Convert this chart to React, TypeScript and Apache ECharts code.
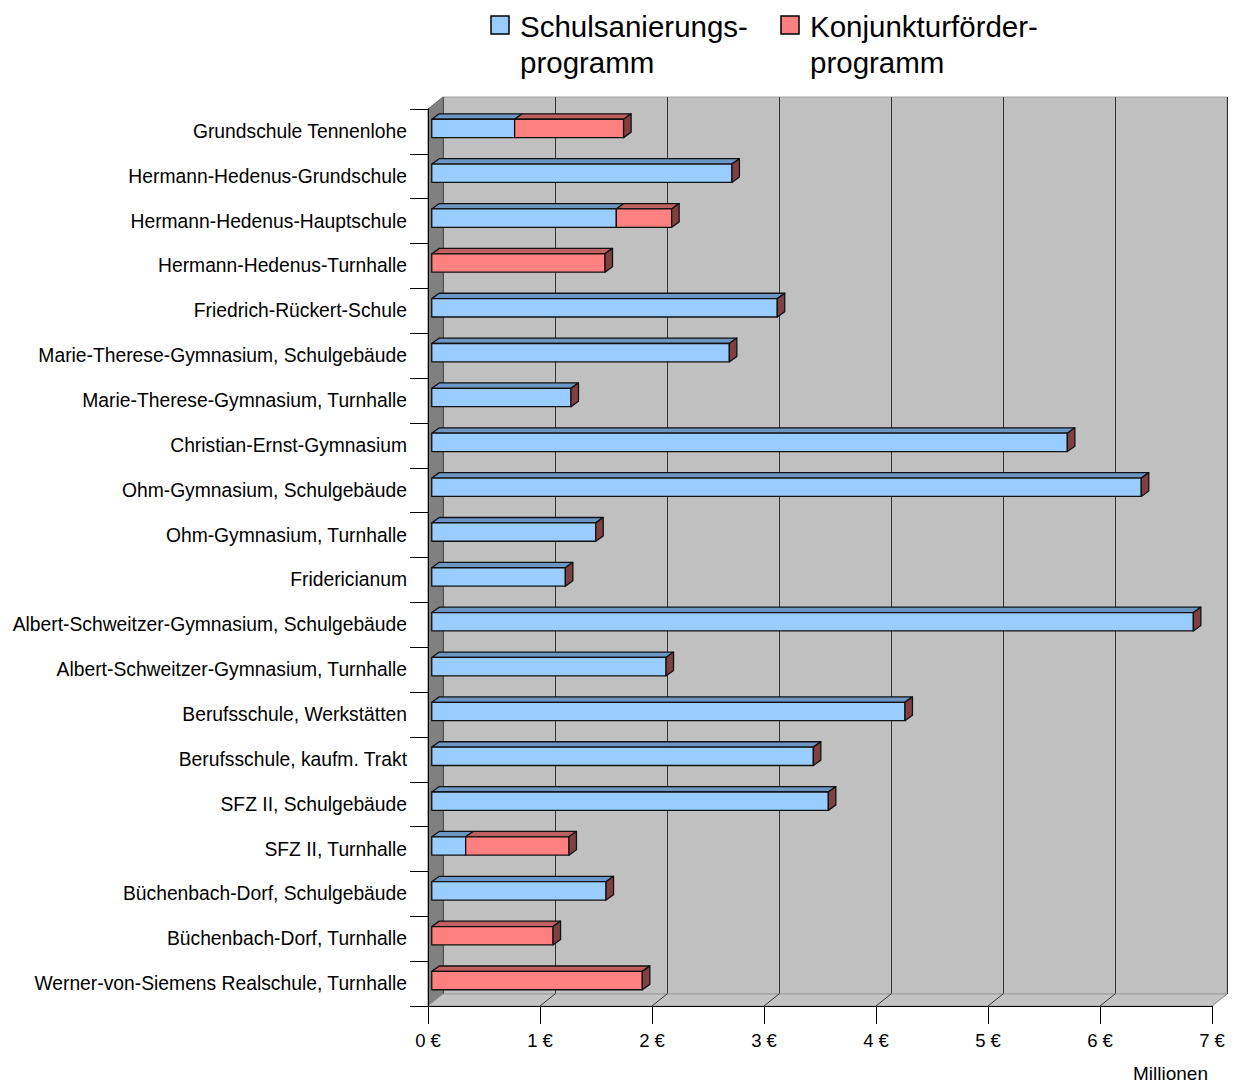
import React, { useEffect, useRef } from "react";
import * as echarts from "echarts";

const categories = [
  "Grundschule Tennenlohe",
  "Hermann-Hedenus-Grundschule",
  "Hermann-Hedenus-Hauptschule",
  "Hermann-Hedenus-Turnhalle",
  "Friedrich-Rückert-Schule",
  "Marie-Therese-Gymnasium, Schulgebäude",
  "Marie-Therese-Gymnasium, Turnhalle",
  "Christian-Ernst-Gymnasium",
  "Ohm-Gymnasium, Schulgebäude",
  "Ohm-Gymnasium, Turnhalle",
  "Fridericianum",
  "Albert-Schweitzer-Gymnasium, Schulgebäude",
  "Albert-Schweitzer-Gymnasium, Turnhalle",
  "Berufsschule, Werkstätten",
  "Berufsschule, kaufm. Trakt",
  "SFZ II, Schulgebäude",
  "SFZ II, Turnhalle",
  "Büchenbach-Dorf, Schulgebäude",
  "Büchenbach-Dorf, Turnhalle",
  "Werner-von-Siemens Realschule, Turnhalle",
];

const schulsanierung = [
  0.74, 2.68, 1.648, 0, 3.085, 2.657, 1.243, 5.675, 6.335, 1.464, 1.193, 6.8,
  2.092, 4.225, 3.407, 3.541, 0.303, 1.556, 0, 0,
];
const konjunktur = [
  0.973, 0, 0.494, 1.547, 0, 0, 0, 0, 0, 0, 0, 0, 0, 0, 0, 0, 0.922, 0, 1.083,
  1.88,
];

const seriesNames = ["Schulsanierungs-\nprogramm", "Konjunkturförder-\nprogramm"];
const xTicks = [0, 1, 2, 3, 4, 5, 6, 7];
const axisUnit = "Millionen";

// layout
const W = 1234;
const H = 1082;
const GL = 428;
const GR = 1212;
const GT = 109;
const GB = 1006;
const DX = 15;
const DY = 12;

const FRONT = ["#99ccff", "#ff8080"];
const TOP = ["#6c97c4", "#c06060"];
const SIDE = "#804040";

const FONT = "'Liberation Sans', Arial, sans-serif";

export default function App() {
  const ref = useRef<HTMLDivElement>(null);

  useEffect(() => {
    if (!ref.current) return;
    const chart = echarts.init(ref.current, null, { renderer: "svg" });

    const items: number[][] = [];
    categories.forEach((_, i) => {
      const a = schulsanierung[i];
      const b = konjunktur[i];
      if (a > 0) items.push([i, 0, a, 0, b > 0 ? 0 : 1]);
      if (b > 0) items.push([i, a, a + b, 1, 1]);
    });

    const unit = (GR - GL) / (xTicks.length - 1);
    const graphics: any[] = [];
    // left wall
    graphics.push({
      type: "polygon",
      z: 1,
      shape: { points: [[GL, GT], [GL + DX, GT - DY], [GL + DX, GB - DY], [GL, GB]] },
      style: { fill: "#808080", stroke: "#6a6a6a", lineWidth: 1 },
    });
    // floor
    graphics.push({
      type: "polygon",
      z: 1,
      shape: { points: [[GL, GB], [GL + DX, GB - DY], [GR + DX, GB - DY], [GR, GB]] },
      style: { fill: "#c4c4c4", stroke: "#9a9a9a", lineWidth: 1 },
    });
    xTicks.forEach((t, k) => {
      if (k === 0) return;
      graphics.push({
        type: "line",
        z: 1,
        shape: { x1: GL + unit * t, y1: GB, x2: GL + unit * t + DX, y2: GB - DY },
        style: { stroke: k === xTicks.length - 1 ? "#9a9a9a" : "#333", lineWidth: 1 },
      });
    });
    // legend
    const legendX = [491, 781];
    seriesNames.forEach((name, i) => {
      graphics.push({
        type: "rect",
        z: 5,
        shape: { x: legendX[i], y: 16, width: 18, height: 18 },
        style: { fill: FRONT[i], stroke: "#000", lineWidth: 1.5 },
      });
      graphics.push({
        type: "text",
        z: 5,
        x: legendX[i] + 29,
        y: 8,
        style: {
          text: name,
          font: `29.5px ${FONT}`,
          fill: "#000",
          lineHeight: 36,
          textVerticalAlign: "top",
        },
      });
    });
    graphics.push({
      type: "text",
      z: 5,
      x: 1208,
      y: 1073,
      style: {
        text: axisUnit,
        font: `19px ${FONT}`,
        fill: "#000",
        textAlign: "right",
        textVerticalAlign: "middle",
      },
    });

    chart.setOption({
      animation: false,
      backgroundColor: "#fff",
      graphic: graphics,
      grid: [
        { left: GL, right: W - GR, top: GT, bottom: H - GB, containLabel: false },
        {
          left: GL + DX,
          right: W - GR - DX,
          top: GT - DY,
          bottom: H - GB + DY,
          show: true,
          backgroundColor: "#c0c0c0",
          borderColor: "#a0a0a0",
          borderWidth: 1,
          z: 0,
        },
      ],
      xAxis: [
        {
          type: "value",
          gridIndex: 0,
          min: 0,
          max: 7,
          interval: 1,
          z: 5,
          axisLine: { show: true, lineStyle: { color: "#000", width: 1 } },
          axisTick: { show: true, length: 18, lineStyle: { color: "#000" } },
          axisLabel: {
            formatter: "{value} €",
            color: "#000",
            fontSize: 18.5,
            fontFamily: FONT,
            margin: 25,
          },
          splitLine: { show: false },
        },
        {
          type: "value",
          gridIndex: 1,
          min: 0,
          max: 7,
          interval: 1,
          z: 0,
          axisLine: { show: false },
          axisTick: { show: false },
          axisLabel: { show: false },
          splitLine: { show: true, lineStyle: { color: "#333", width: 1 } },
        },
      ],
      yAxis: [
        {
          type: "category",
          gridIndex: 0,
          data: categories,
          inverse: true,
          z: 5,
          axisLine: { show: true, lineStyle: { color: "#000", width: 1 } },
          axisTick: { show: true, length: 18, lineStyle: { color: "#000" } },
          axisLabel: {
            color: "#000",
            fontSize: 19.3,
            fontFamily: FONT,
            margin: 21,
          },
        },
        {
          type: "value",
          gridIndex: 1,
          show: false,
          splitLine: { show: false },
        },
      ],
      series: [
        {
          type: "custom",
          xAxisIndex: 0,
          yAxisIndex: 0,
          z: 10,
          encode: { x: [1, 2], y: 0 },
          data: items,
          renderItem: (params: any, api: any) => {
            const cat = api.value(0);
            const s = api.value(1);
            const e = api.value(2);
            const kind = api.value(3);
            const last = api.value(4);
            const p0 = api.coord([s, cat]);
            const p1 = api.coord([e, cat]);
            const band = api.size([0, 1])[1];
            const h = band * 0.41;
            const ox = DX * 0.25;
            const oy = -DY * 0.25;
            const x0 = p0[0] + ox;
            const x1 = p1[0] + ox;
            const yc = p0[1] + oy;
            const top = yc - h / 2;
            const bot = yc + h / 2;
            const dx = DX * 0.5;
            const dy = DY * 0.45;
            const stroke = { stroke: "#111", lineWidth: 1.3, lineJoin: "round" };
            const children: any[] = [
              {
                type: "polygon",
                shape: { points: [[x0, top], [x0 + dx, top - dy], [x1 + dx, top - dy], [x1, top]] },
                style: { fill: TOP[kind], ...stroke },
              },
              {
                type: "rect",
                shape: { x: x0, y: top, width: x1 - x0, height: bot - top },
                style: { fill: FRONT[kind], ...stroke },
              },
            ];
            if (last) {
              children.push({
                type: "polygon",
                shape: { points: [[x1, top], [x1 + dx, top - dy], [x1 + dx, bot - dy], [x1, bot]] },
                style: { fill: SIDE, ...stroke },
              });
            }
            return { type: "group", children };
          },
        },
      ],
    });

    return () => chart.dispose();
  }, []);

  return (
    <div
      ref={ref}
      style={{ position: "absolute", left: 0, top: 0, width: W, height: H }}
    />
  );
}
